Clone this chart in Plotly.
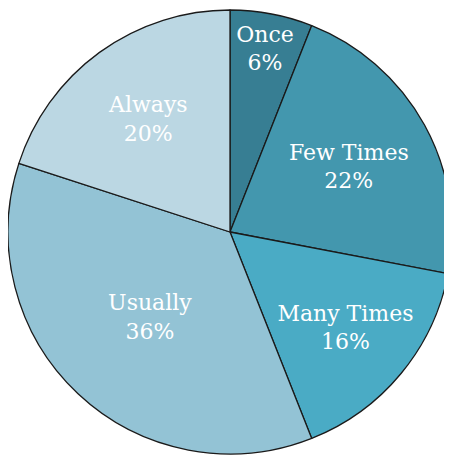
import plotly.graph_objects as go

labels = ["Once", "Few Times", "Many Times", "Usually", "Always"]
values = [6, 22, 16, 36, 20]
colors = ["#377e93", "#4397ae", "#4aabc5", "#93c3d5", "#bbd7e3"]

fig = go.Figure(go.Pie(
    labels=labels,
    values=values,
    sort=False,
    direction="clockwise",
    rotation=0,
    marker=dict(colors=colors, line=dict(color="#1a1a1a", width=1.3)),
    texttemplate="%{label}<br>%{value}%",
    textposition="inside",
    insidetextorientation="horizontal",
    textfont=dict(family="DejaVu Serif", size=22, color="white"),
    hoverinfo="none",
    showlegend=False,
))
fig.update_layout(
    width=452, height=458,
    margin=dict(l=0, r=8, t=1, b=11),
    paper_bgcolor="white",
    uniformtext=dict(minsize=22, mode="show"),
)
fig.write_html("out.html")
